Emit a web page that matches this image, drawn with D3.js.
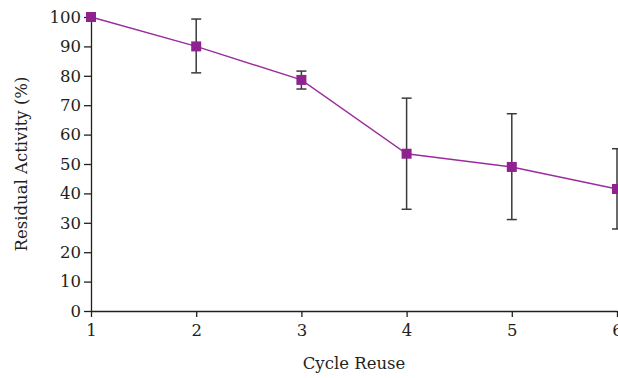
<!DOCTYPE html>
<html>
<head>
<meta charset="utf-8">
<script src="https://cdn.jsdelivr.net/npm/d3@7"></script>
<style>
  body { margin: 0; background: #fff; }
  svg { display: block; }
  .axis text { font-family: "DejaVu Serif", serif; font-size: 16.5px; fill: #231f20; }
  .axis path, .axis line { stroke: #231f20; stroke-width: 1.3; }
</style>
</head>
<body>
<div id="chart"></div>
<script>
const cycles = [1, 2, 3, 4, 5, 6]
const activity = [100, 90, 78.6, 53.5, 49, 41.5]
const errUpper = [100, 99.3, 81.6, 72.4, 67.1, 55.2]
const errLower = [100, 81, 75.5, 34.6, 31.1, 27.9]
const yTicks = [0, 10, 20, 30, 40, 50, 60, 70, 80, 90, 100]

const w = 618, h = 378
const margin = { left: 91, right: 1, top: 17, bottom: 67 }

const svg = d3.select('#chart').append('svg')
  .attr('width', w)
  .attr('height', h)

const x = d3.scaleLinear().domain([1, 6]).range([margin.left, w - margin.right])
const y = d3.scaleLinear().domain([0, 100]).range([h - margin.bottom, margin.top])

svg.append('g')
  .attr('class', 'axis')
  .attr('transform', 'translate(0,' + (h - margin.bottom) + ')')
  .call(d3.axisBottom(x).tickValues(cycles).tickFormat(d3.format('d')).tickSize(6).tickSizeOuter(0).tickPadding(7))

svg.append('g')
  .attr('class', 'axis')
  .attr('transform', 'translate(' + margin.left + ',0)')
  .call(d3.axisLeft(y).tickValues(yTicks).tickSize(7).tickSizeOuter(0).tickPadding(3))

// error bars
var eb = svg.append('g')
cycles.forEach(function (c, i) {
  if (errUpper[i] === errLower[i]) return
  var cx = x(c)
  eb.append('line').attr('x1', cx).attr('x2', cx).attr('y1', y(errUpper[i])).attr('y2', y(errLower[i]))
  eb.append('line').attr('x1', cx - 5).attr('x2', cx + 5).attr('y1', y(errUpper[i])).attr('y2', y(errUpper[i]))
  eb.append('line').attr('x1', cx - 5).attr('x2', cx + 5).attr('y1', y(errLower[i])).attr('y2', y(errLower[i]))
})
eb.selectAll('line').attr('stroke', '#3a3a3a').attr('stroke-width', 1.5)

var line = d3.line()
  .x(function (d, i) { return x(cycles[i]) })
  .y(function (d) { return y(d) })

svg.append('path')
  .datum(activity)
  .attr('d', line)
  .attr('fill', 'none')
  .attr('stroke', '#9a2c9c')
  .attr('stroke-width', 1.4)

svg.selectAll('.marker')
  .data(activity)
  .enter()
  .append('rect')
  .attr('class', 'marker')
  .attr('x', function (d, i) { return x(cycles[i]) - 5 })
  .attr('y', function (d) { return y(d) - 5 })
  .attr('width', 10)
  .attr('height', 10)
  .attr('fill', '#8e238f')

svg.append('text')
  .attr('x', (margin.left + w - margin.right) / 2)
  .attr('y', 369)
  .attr('text-anchor', 'middle')
  .style('font-family', '"DejaVu Serif", serif')
  .style('font-size', '16.5px')
  .style('fill', '#231f20')
  .text('Cycle Reuse')

svg.append('text')
  .attr('transform', 'translate(27,' + ((margin.top + h - margin.bottom) / 2) + ') rotate(-90)')
  .attr('text-anchor', 'middle')
  .style('font-family', '"DejaVu Serif", serif')
  .style('font-size', '16.5px')
  .style('fill', '#231f20')
  .text('Residual Activity (%)')
</script>
</body>
</html>
